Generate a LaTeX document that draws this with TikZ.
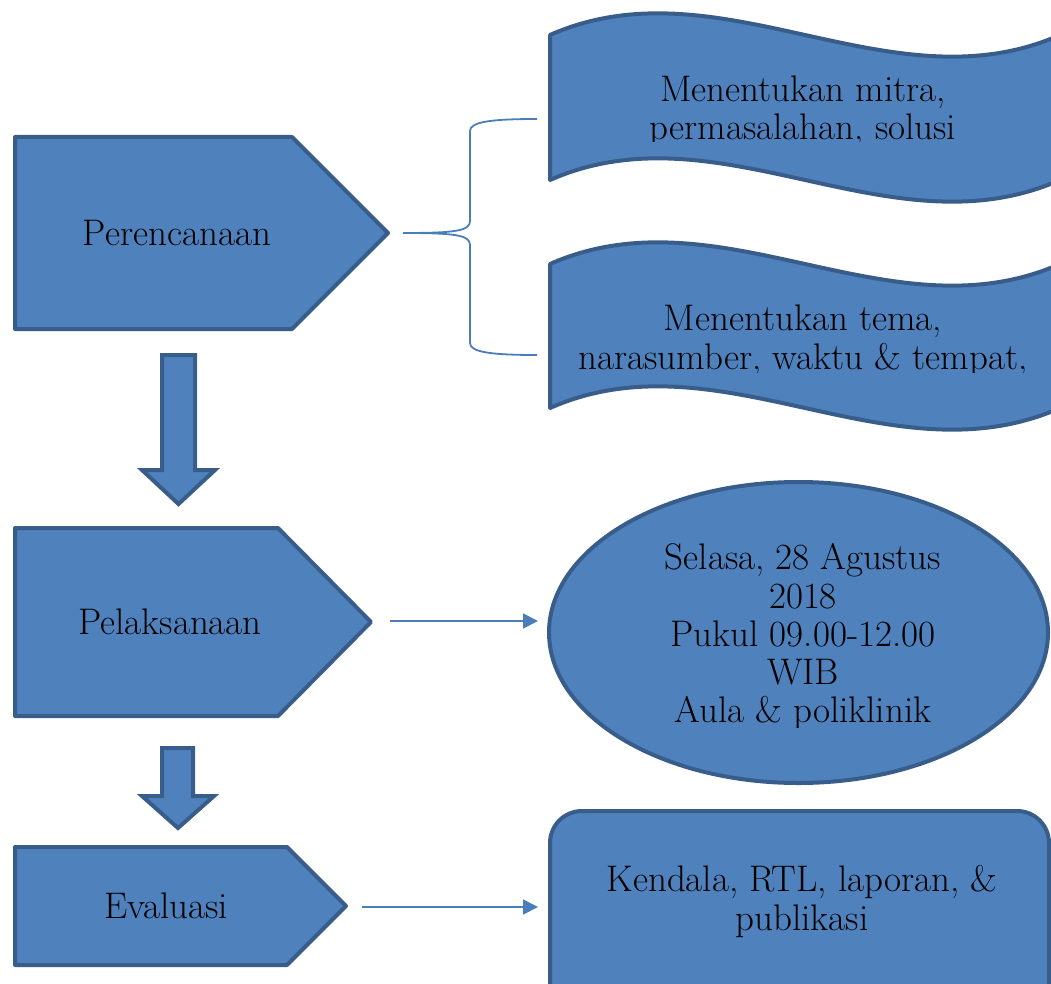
\documentclass[tikz,border=0pt]{standalone}
\usetikzlibrary{arrows.meta}
\definecolor{shapefill}{HTML}{4F81BD}
\definecolor{shapeline}{HTML}{385D8A}
\definecolor{connline}{HTML}{4A7EBB}
\begin{document}
\begin{tikzpicture}[x=1pt,y=-1pt,
  shp/.style={fill=shapefill,draw=shapeline,line width=4pt,line join=round},
  conn/.style={draw=connline,line width=1.8pt},
  arr/.style={conn,-{Triangle[length=15pt,width=15pt]}},
  lbl/.style={font=\fontsize{37}{38.25}\selectfont,align=center,text=black,inner sep=0pt}]
\useasboundingbox (0,0) rectangle (1051,984);
\clip (0,0) rectangle (1051,984);
% left pentagons
\draw[shp] (15,137) -- (292,137) -- (388,233) -- (292,329) -- (15,329) -- cycle;
\draw[shp] (15,528) -- (278,528) -- (371,622) -- (278,716) -- (15,716) -- cycle;
\draw[shp] (15,847) -- (287,847) -- (346,906) -- (287,965) -- (15,965) -- cycle;
\node[lbl] (plan) at (177,233.5) {Perencanaan};
\node[lbl] (exec) at (170,622) {Pelaksanaan};
\node[lbl] (eval) at (166,906) {Evaluasi};
% down arrows
\draw[shp,line join=miter] (162,355) -- (195,355) -- (195,470) -- (215,470) -- (178.5,504) -- (142,470) -- (162,470) -- cycle;
\draw[shp,line join=miter] (162,748) -- (193,748) -- (193,796) -- (214,796) -- (178,828) -- (142,796) -- (162,796) -- cycle;
% banners
\draw[shp] (550,35) .. controls (720,-40) and (890,110) .. (1060,35) -- (1060,180) .. controls (890,255) and (720,105) .. (550,180) -- cycle;
\draw[shp] (550,264) .. controls (720,189) and (890,339) .. (1060,264) -- (1060,408) .. controls (890,483) and (720,333) .. (550,408) -- cycle;
\begin{scope}
\clip (540,60) rectangle (1051,142);
\node[lbl] (b1) at (803,111) {Menentukan mitra,\\permasalahan, solusi};
\end{scope}
\begin{scope}
\clip (540,290) rectangle (1051,372);
\node[lbl] (b2) at (803,340.7) {Menentukan tema,\\narasumber, waktu \& tempat,};
\end{scope}
% ellipse
\draw[shp] (798.5,632.5) ellipse [x radius=249.5, y radius=150.5];
\begin{scope}
\clip (560,530) rectangle (1040,727);
\node[lbl] (ell) at (803,637) {Selasa, 28 Agustus\\2018\\Pukul 09.00-12.00\\WIB\\Aula \& poliklinik};
\end{scope}
% rounded rect
\draw[shp,rounded corners=32pt] (550,811) rectangle (1049,1020);
\node[lbl] (rect) at (802,901.5) {Kendala, RTL, laporan, \&\\publikasi};
% brace
\coordinate (bs) at (403,233);
\coordinate (bt) at (537,119);
\coordinate (bb) at (537,355);
\draw[conn] (bs) .. controls (455,233) and (470,231) .. (470,221) -- (470,131) .. controls (470,122) and (490,119) .. (bt);
\draw[conn] (bs) .. controls (455,233) and (470,235) .. (470,245) -- (470,343) .. controls (470,352) and (490,355) .. (bb);
% arrows
\coordinate (a1s) at (390,621);
\coordinate (a1e) at (538,621);
\coordinate (a2s) at (362,907);
\coordinate (a2e) at (538,907);
\draw[arr] (a1s) -- (a1e);
\draw[arr] (a2s) -- (a2e);
\end{tikzpicture}
\end{document}
